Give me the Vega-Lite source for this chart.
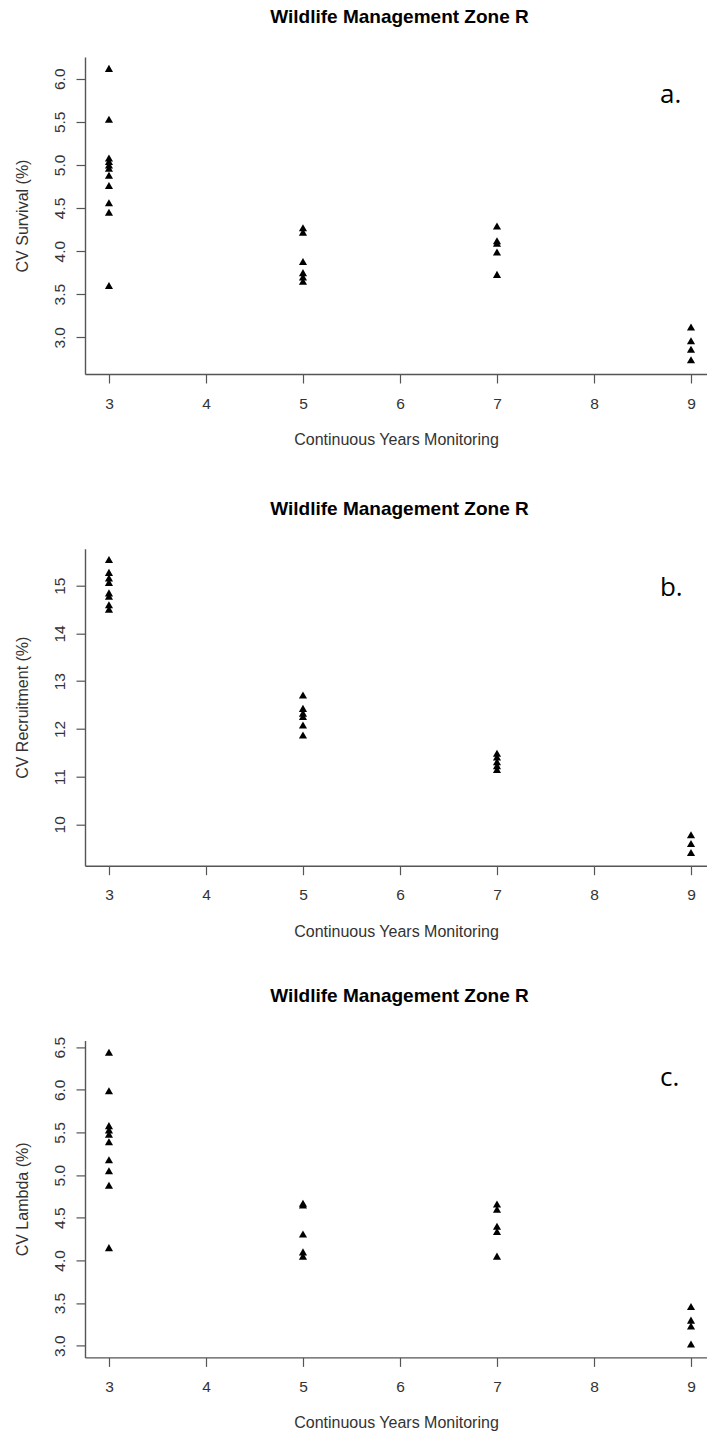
{
  "$schema": "https://vega.github.io/schema/vega-lite/v6.json",
  "background": "white",
  "padding": {"left": 14, "top": 8, "right": 0, "bottom": 0},
  "config": {
    "view": {"stroke": null},
    "font": "Liberation Sans",
    "axis": {
      "grid": false,
      "domainColor": "#555555",
      "domainWidth": 1.4,
      "tickColor": "#555555",
      "tickWidth": 1.2,
      "tickSize": 9,
      "labelFont": "Liberation Sans",
      "labelFontSize": 15.5,
      "labelColor": "#333333",
      "titleFont": "Liberation Sans",
      "titleFontSize": 16,
      "titleFontWeight": "normal",
      "titleColor": "#333333"
    },
    "title": {
      "font": "Liberation Sans",
      "fontSize": 19,
      "fontWeight": "bold",
      "color": "#000000",
      "baseline": "alphabetic",
      "offset": 30,
      "dx": 3.5
    }
  },
  "datasets": {
    "cv": [
      {"panel": "a", "years": 3, "cv": 6.12},
      {"panel": "a", "years": 3, "cv": 5.53},
      {"panel": "a", "years": 3, "cv": 5.08},
      {"panel": "a", "years": 3, "cv": 5.04},
      {"panel": "a", "years": 3, "cv": 5.0},
      {"panel": "a", "years": 3, "cv": 4.96},
      {"panel": "a", "years": 3, "cv": 4.88},
      {"panel": "a", "years": 3, "cv": 4.76},
      {"panel": "a", "years": 3, "cv": 4.56},
      {"panel": "a", "years": 3, "cv": 4.45},
      {"panel": "a", "years": 3, "cv": 3.6},
      {"panel": "a", "years": 5, "cv": 4.27},
      {"panel": "a", "years": 5, "cv": 4.22},
      {"panel": "a", "years": 5, "cv": 3.88},
      {"panel": "a", "years": 5, "cv": 3.75},
      {"panel": "a", "years": 5, "cv": 3.7},
      {"panel": "a", "years": 5, "cv": 3.65},
      {"panel": "a", "years": 7, "cv": 4.29},
      {"panel": "a", "years": 7, "cv": 4.12},
      {"panel": "a", "years": 7, "cv": 4.09},
      {"panel": "a", "years": 7, "cv": 3.99},
      {"panel": "a", "years": 7, "cv": 3.73},
      {"panel": "a", "years": 9, "cv": 3.12},
      {"panel": "a", "years": 9, "cv": 2.96},
      {"panel": "a", "years": 9, "cv": 2.86},
      {"panel": "a", "years": 9, "cv": 2.74},
      {"panel": "b", "years": 3, "cv": 15.55},
      {"panel": "b", "years": 3, "cv": 15.28},
      {"panel": "b", "years": 3, "cv": 15.16},
      {"panel": "b", "years": 3, "cv": 15.07},
      {"panel": "b", "years": 3, "cv": 14.85},
      {"panel": "b", "years": 3, "cv": 14.78},
      {"panel": "b", "years": 3, "cv": 14.6},
      {"panel": "b", "years": 3, "cv": 14.51},
      {"panel": "b", "years": 5, "cv": 12.71},
      {"panel": "b", "years": 5, "cv": 12.43},
      {"panel": "b", "years": 5, "cv": 12.33},
      {"panel": "b", "years": 5, "cv": 12.26},
      {"panel": "b", "years": 5, "cv": 12.08},
      {"panel": "b", "years": 5, "cv": 11.87},
      {"panel": "b", "years": 7, "cv": 11.49},
      {"panel": "b", "years": 7, "cv": 11.41},
      {"panel": "b", "years": 7, "cv": 11.31},
      {"panel": "b", "years": 7, "cv": 11.23},
      {"panel": "b", "years": 7, "cv": 11.15},
      {"panel": "b", "years": 9, "cv": 9.78},
      {"panel": "b", "years": 9, "cv": 9.6},
      {"panel": "b", "years": 9, "cv": 9.41},
      {"panel": "c", "years": 3, "cv": 6.44},
      {"panel": "c", "years": 3, "cv": 5.99},
      {"panel": "c", "years": 3, "cv": 5.58},
      {"panel": "c", "years": 3, "cv": 5.53},
      {"panel": "c", "years": 3, "cv": 5.48},
      {"panel": "c", "years": 3, "cv": 5.39},
      {"panel": "c", "years": 3, "cv": 5.18},
      {"panel": "c", "years": 3, "cv": 5.05},
      {"panel": "c", "years": 3, "cv": 4.88},
      {"panel": "c", "years": 3, "cv": 4.15},
      {"panel": "c", "years": 5, "cv": 4.67},
      {"panel": "c", "years": 5, "cv": 4.65},
      {"panel": "c", "years": 5, "cv": 4.31},
      {"panel": "c", "years": 5, "cv": 4.1},
      {"panel": "c", "years": 5, "cv": 4.05},
      {"panel": "c", "years": 7, "cv": 4.66},
      {"panel": "c", "years": 7, "cv": 4.6},
      {"panel": "c", "years": 7, "cv": 4.4},
      {"panel": "c", "years": 7, "cv": 4.34},
      {"panel": "c", "years": 7, "cv": 4.05},
      {"panel": "c", "years": 9, "cv": 3.46},
      {"panel": "c", "years": 9, "cv": 3.3},
      {"panel": "c", "years": 9, "cv": 3.23},
      {"panel": "c", "years": 9, "cv": 3.02}
    ]
  },
  "bounds": "flush",
  "spacing": 174.7,
  "vconcat": [
    {
      "title": "Wildlife Management Zone R",
      "width": 622,
      "height": 317,
      "layer": [
        {
          "data": {"name": "cv"},
          "transform": [{"filter": "datum.panel === 'a'"}],
          "mark": {"type": "point", "shape": "triangle-up", "filled": true, "color": "#000000", "opacity": 1, "size": 66},
          "encoding": {
            "x": {"field": "years", "type": "quantitative", "scale": {"domain": [2.753, 9.165], "nice": false, "zero": false}, "axis": {"values": [3, 4, 5, 6, 7, 8, 9], "format": "d", "title": "Continuous Years Monitoring", "labelPadding": 13, "titlePadding": 20}},
            "y": {"field": "cv", "type": "quantitative", "scale": {"domain": [2.574, 6.252], "nice": false, "zero": false}, "axis": {"values": [3, 3.5, 4, 4.5, 5, 5.5, 6], "format": ".1f", "labelAngle": -90, "labelAlign": "center", "labelBaseline": "bottom", "labelPadding": 9, "titlePadding": 22, "title": "CV Survival (%)"}}
          }
        },
        {
          "mark": {"type": "rule", "color": "#555555", "strokeWidth": 1.4},
          "encoding": {"y": {"datum": 6.252}}
        },
        {
          "data": {"values": [{"label": "a."}]},
          "mark": {"type": "text", "font": "Open Sans", "fontSize": 26, "align": "left", "baseline": "alphabetic", "color": "#000000"},
          "encoding": {"x": {"datum": 8.68}, "y": {"datum": 5.718}, "text": {"field": "label", "type": "nominal"}}
        }
      ]
    },
    {
      "title": "Wildlife Management Zone R",
      "width": 622,
      "height": 317,
      "layer": [
        {
          "data": {"name": "cv"},
          "transform": [{"filter": "datum.panel === 'b'"}],
          "mark": {"type": "point", "shape": "triangle-up", "filled": true, "color": "#000000", "opacity": 1, "size": 66},
          "encoding": {
            "x": {"field": "years", "type": "quantitative", "scale": {"domain": [2.753, 9.165], "nice": false, "zero": false}, "axis": {"values": [3, 4, 5, 6, 7, 8, 9], "format": "d", "title": "Continuous Years Monitoring", "labelPadding": 13, "titlePadding": 20}},
            "y": {"field": "cv", "type": "quantitative", "scale": {"domain": [9.133, 15.776], "nice": false, "zero": false}, "axis": {"values": [10, 11, 12, 13, 14, 15], "format": "d", "labelAngle": -90, "labelAlign": "center", "labelBaseline": "bottom", "labelPadding": 9, "titlePadding": 22, "title": "CV Recruitment (%)"}}
          }
        },
        {
          "mark": {"type": "rule", "color": "#555555", "strokeWidth": 1.4},
          "encoding": {"y": {"datum": 15.776}}
        },
        {
          "data": {"values": [{"label": "b."}]},
          "mark": {"type": "text", "font": "Open Sans", "fontSize": 26, "align": "left", "baseline": "alphabetic", "color": "#000000"},
          "encoding": {"x": {"datum": 8.68}, "y": {"datum": 14.778}, "text": {"field": "label", "type": "nominal"}}
        }
      ]
    },
    {
      "title": "Wildlife Management Zone R",
      "width": 622,
      "height": 317,
      "layer": [
        {
          "data": {"name": "cv"},
          "transform": [{"filter": "datum.panel === 'c'"}],
          "mark": {"type": "point", "shape": "triangle-up", "filled": true, "color": "#000000", "opacity": 1, "size": 66},
          "encoding": {
            "x": {"field": "years", "type": "quantitative", "scale": {"domain": [2.753, 9.165], "nice": false, "zero": false}, "axis": {"values": [3, 4, 5, 6, 7, 8, 9], "format": "d", "title": "Continuous Years Monitoring", "labelPadding": 13, "titlePadding": 20}},
            "y": {"field": "cv", "type": "quantitative", "scale": {"domain": [2.863, 6.579], "nice": false, "zero": false}, "axis": {"values": [3, 3.5, 4, 4.5, 5, 5.5, 6, 6.5], "format": ".1f", "labelAngle": -90, "labelAlign": "center", "labelBaseline": "bottom", "labelPadding": 9, "titlePadding": 22, "title": "CV Lambda (%)"}}
          }
        },
        {
          "mark": {"type": "rule", "color": "#555555", "strokeWidth": 1.4},
          "encoding": {"y": {"datum": 6.579}}
        },
        {
          "data": {"values": [{"label": "c."}]},
          "mark": {"type": "text", "font": "Open Sans", "fontSize": 26, "align": "left", "baseline": "alphabetic", "color": "#000000"},
          "encoding": {"x": {"datum": 8.68}, "y": {"datum": 6.039}, "text": {"field": "label", "type": "nominal"}}
        }
      ]
    }
  ]
}
